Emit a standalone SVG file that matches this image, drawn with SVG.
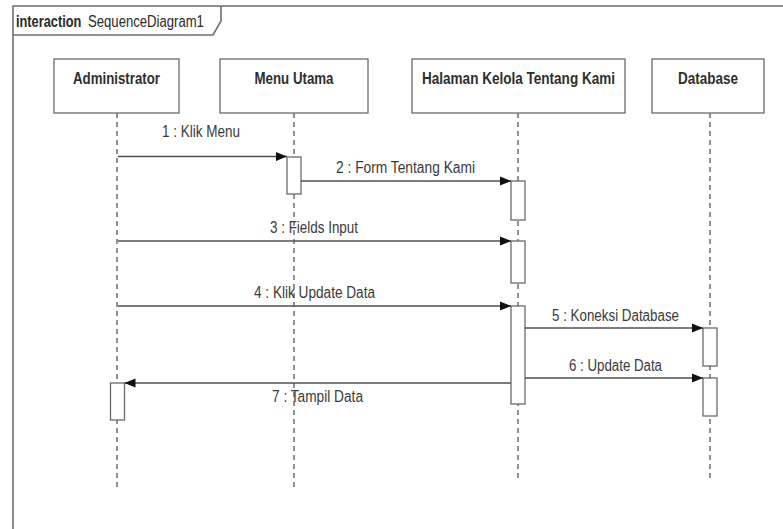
<svg xmlns="http://www.w3.org/2000/svg" width="783" height="529" viewBox="0 0 783 529">
<style>
.frame{fill:none;stroke:#6e6e6e;stroke-width:1.6}
.box{fill:#fff;stroke:#6a6a6a;stroke-width:1.3}
.act{fill:#fff;stroke:#6a6a6a;stroke-width:1.3}
.life{stroke:#222;stroke-width:1;stroke-dasharray:5,4;fill:none}
.msg{stroke:#505050;stroke-width:1.5;fill:none;marker-end:url(#ah)}
.name{font-family:"Liberation Sans",Arial,sans-serif;font-size:17px;font-weight:bold;fill:#2e2e2e;text-anchor:middle}
.lbl{font-family:"Liberation Sans",Arial,sans-serif;font-size:16px;fill:#3a3a3a}
.hdr{font-family:"Liberation Sans",Arial,sans-serif;font-size:16px;fill:#2a2a2a}
</style>
<defs>
<marker id="ah" markerUnits="userSpaceOnUse" markerWidth="12" markerHeight="10" refX="11" refY="5" orient="auto">
<path d="M0,0.5 L11,5 L0,9.5 Z" fill="#111"/>
</marker>
</defs>
<rect width="783" height="529" fill="#fff"/>
<g id="frame">
<path class="frame" d="M13,529 L13,6 L783,6"/>
<path class="frame" d="M13,35 L213,35 L221,21 L221,6"/>
<text transform="translate(16,27) scale(0.8,1)" class="hdr" font-weight="bold">interaction</text>
<text transform="translate(88,27) scale(0.82,1)" class="hdr">SequenceDiagram1</text>
</g>
<g id="lifelines">
<line class="life" x1="117" y1="113" x2="117" y2="489"/>
<line class="life" x1="294" y1="113" x2="294" y2="489"/>
<line class="life" x1="518" y1="113" x2="518" y2="479"/>
<line class="life" x1="710" y1="113" x2="710" y2="479"/>
</g>
<g id="administrator">
<rect class="box" x="54" y="59" width="125" height="54"/>
<text class="name" x="116.5" y="83.5" textLength="87" lengthAdjust="spacingAndGlyphs">Administrator</text>
<rect class="act" x="110.5" y="383" width="14" height="37"/>
</g>
<g id="menu-utama">
<rect class="box" x="220" y="59" width="148" height="54"/>
<text class="name" x="294" y="83.5" textLength="79" lengthAdjust="spacingAndGlyphs">Menu Utama</text>
<rect class="act" x="287" y="157" width="14" height="37"/>
</g>
<g id="halaman-kelola">
<rect class="box" x="412" y="59" width="213" height="54"/>
<text class="name" x="518.5" y="83.5" textLength="193" lengthAdjust="spacingAndGlyphs">Halaman Kelola Tentang Kami</text>
<rect class="act" x="511" y="181" width="14" height="39"/>
<rect class="act" x="511" y="241" width="14" height="42"/>
<rect class="act" x="511" y="306" width="14" height="98"/>
</g>
<g id="database">
<rect class="box" x="652" y="59" width="112" height="54"/>
<text class="name" x="708" y="83.5" textLength="60" lengthAdjust="spacingAndGlyphs">Database</text>
<rect class="act" x="703" y="328" width="14" height="38"/>
<rect class="act" x="703" y="378" width="14" height="38"/>
</g>
<g id="connectors">
<line class="msg" x1="118" y1="156.5" x2="287" y2="156.5"/>
<text class="lbl" x="162" y="137" textLength="78" lengthAdjust="spacingAndGlyphs">1 : Klik Menu</text>
<line class="msg" x1="301" y1="181" x2="511" y2="181"/>
<text class="lbl" x="336" y="173" textLength="139" lengthAdjust="spacingAndGlyphs">2 : Form Tentang Kami</text>
<line class="msg" x1="118" y1="241" x2="511" y2="241"/>
<text class="lbl" x="270" y="233" textLength="88" lengthAdjust="spacingAndGlyphs">3 : Fields Input</text>
<line class="msg" x1="118" y1="306" x2="511" y2="306"/>
<text class="lbl" x="254" y="298" textLength="121" lengthAdjust="spacingAndGlyphs">4 : Klik Update Data</text>
<line class="msg" x1="525" y1="328" x2="703" y2="328"/>
<text class="lbl" x="552" y="320.5" textLength="127" lengthAdjust="spacingAndGlyphs">5 : Koneksi Database</text>
<line class="msg" x1="525" y1="378" x2="703" y2="378"/>
<text class="lbl" x="569" y="370.5" textLength="93" lengthAdjust="spacingAndGlyphs">6 : Update Data</text>
<line class="msg" x1="511" y1="383" x2="124.5" y2="383"/>
<text class="lbl" x="272" y="401.5" textLength="91" lengthAdjust="spacingAndGlyphs">7 : Tampil Data</text>
</g>
</svg>
